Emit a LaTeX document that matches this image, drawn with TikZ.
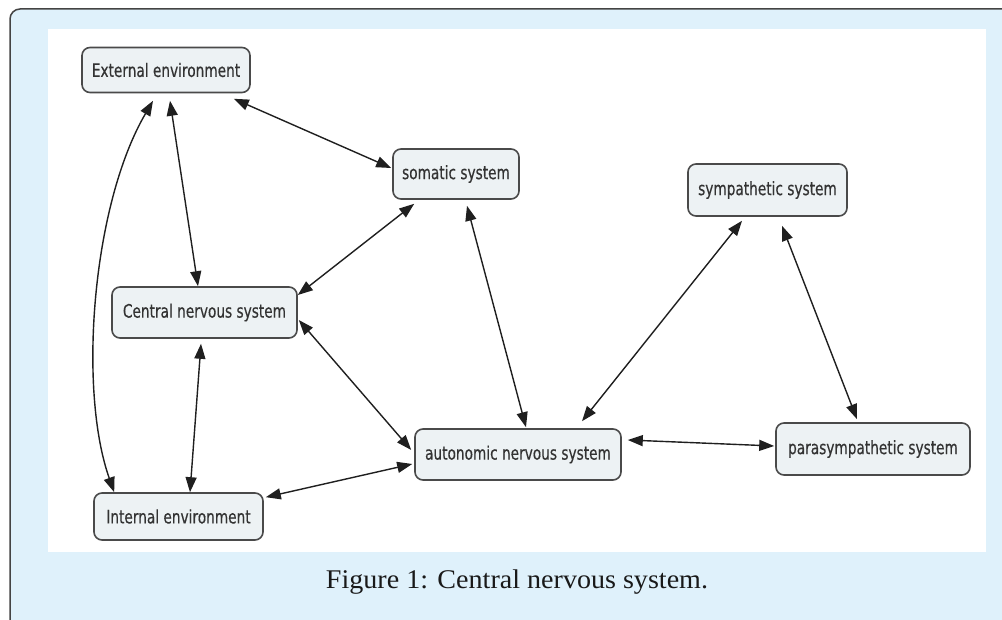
\documentclass[tikz,border=0pt]{standalone}
\usepackage{fontspec}
\usetikzlibrary{arrows.meta,calc}
\newfontfamily\nodefont[FakeStretch=0.74,FakeBold=0.4]{DejaVu Sans}
\newfontfamily\capfont[FakeStretch=1.04]{Liberation Serif}
\definecolor{bgblue}{HTML}{DFF1FB}
\definecolor{boxfill}{HTML}{EDF2F4}
\definecolor{boxline}{HTML}{4A4A4A}
\definecolor{frameline}{HTML}{444444}
\tikzset{
  concept/.style={draw=boxline, line width=1.6pt, fill=boxfill, rounded corners=8pt,
    inner sep=0pt, font=\nodefont\fontsize{18.5}{22}\selectfont, text=black!80},
  link/.style={line width=1.4pt, black!88, {Triangle[length=15pt,width=11pt]}-{Triangle[length=15pt,width=11pt]}}
}
\begin{document}
\begin{tikzpicture}[x=1pt,y=-1pt]
\useasboundingbox (0,0) rectangle (1002,620);
\begin{scope}
\clip (0,0) rectangle (1002,620);
\draw[frameline, line width=1.5pt, fill=bgblue, rounded corners=10pt] (10,9) rectangle (1030,650);
\end{scope}
\fill[white] (48,29) rectangle (986,552);

\node[concept, minimum width=168pt, minimum height=45pt] (ext) at (166,70) {External environment};
\node[concept, minimum width=126pt, minimum height=50pt] (som) at (456,174) {somatic system};
\node[concept, minimum width=159pt, minimum height=52pt] (sym) at (767.5,190) {sympathetic system};
\node[concept, minimum width=185pt, minimum height=51pt] (cns) at (204.5,312.5) {Central nervous system};
\node[concept, minimum width=206pt, minimum height=51pt] (ans) at (518,454.5) {autonomic nervous system};
\node[concept, minimum width=194pt, minimum height=52pt] (par) at (873,449) {parasympathetic system};
\node[concept, minimum width=169pt, minimum height=47pt] (int) at (178.5,516.5) {Internal environment};

\draw[link] ($(ext.south east)+(-17,5.5)$) -- ($(som.west)+(-1,-6)$);
\draw[link] ($(ext.south)+(-13,7.5)$) .. controls (92,205) and (78,390) .. ($(int.north west)+(21,0)$);
\draw[link] ($(ext.south)+(4,7.5)$) -- ($(cns.north)+(-6.5,0)$);
\draw[link] ($(som.south west)+(22,4)$) -- ($(cns.east)+(0,-17.5)$);
\draw[link] ($(som.south)+(11,6)$) -- ($(ans.north)+(8,-1)$);
\draw[link] ($(cns.east)+(1,7.5)$) -- ($(ans.west)+(-3,-4.5)$);
\draw[link] ($(cns.south)+(-3.5,5)$) -- ($(int.north)+(11.5,0)$);
\draw[link] ($(int.north east)+(2,5)$) -- ($(ans.west)+(-2,9.5)$);
\draw[link] ($(ans.north)+(64,-7)$) -- ($(sym.south)+(-25.5,4)$);
\draw[link] ($(sym.south)+(14.5,9)$) -- ($(par.north)+(-16,-3)$);
\draw[link] ($(ans.east)+(6,-14.5)$) -- ($(par.west)+(-1,-3)$);

\node[font=\capfont\fontsize{27}{31}\selectfont, text=black!90] (cap) at (517,582) {Figure 1: Central nervous system.};
\end{tikzpicture}
\end{document}
